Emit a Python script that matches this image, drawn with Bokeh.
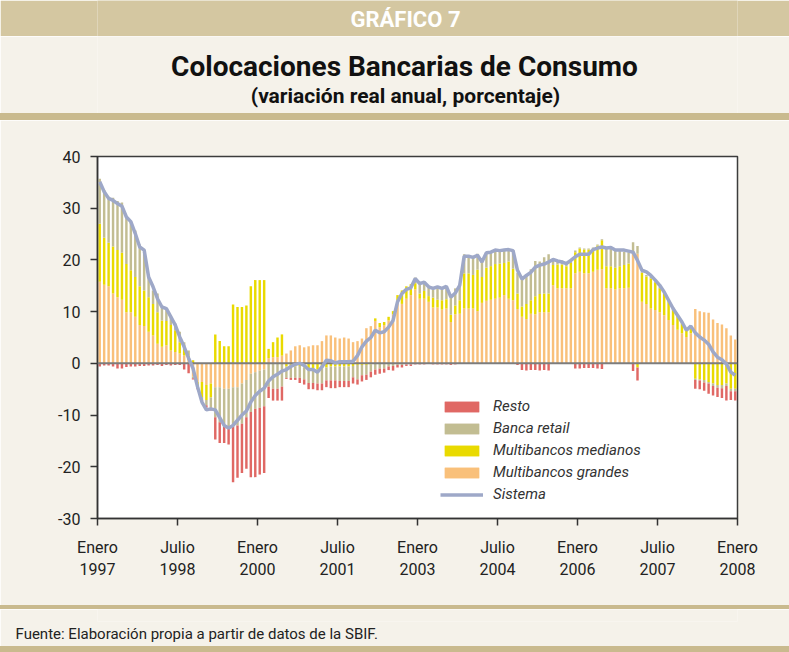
from bokeh.plotting import figure
from bokeh.layouts import column
from bokeh.models import (ColumnDataSource, FixedTicker, Span, Legend, LegendItem,
                          Label, Range1d, Title, Div)
from bokeh.embed import file_html
from bokeh.resources import INLINE

# ---------------- data (monthly categories, 144 bars) ----------------
tick_labels = ["Enero\n1997", "Julio\n1998", "Enero\n2000", "Julio\n2001", "Enero\n2003",
               "Julio\n2004", "Enero\n2006", "Julio\n2007", "Enero\n2008"]
labels_every = 18
y_ticks = [-30, -20, -10, 0, 10, 20, 30, 40]

series_names = ["Multibancos grandes", "Multibancos medianos", "Banca retail", "Resto"]

grandes = [15.8, 15.2, 14.9, 13.5, 12.8, 12.3, 9.9, 9.9, 9.0, 7.4, 7.2, 6.1, 5.4, 3.8, 3.2, 3.5, 2.5, 2.2, 1.9, 1.5, 0.6,
           -2.6, -3.6, -3.6, -4.2, -3.9,
           -4.6, -4.6, -4.9, -4.9, -4.6, -4.6, -3.9, -3.2, -2.0, -1.7, -1.4, -1.2,
           1.0, 1.2, 1.2, 1.5,
           1.9, 2.5, 3.3, 3.5, 3.1, 3.3, 3.5, 3.5, 4.3, 5.4, 5.4, 5.0, 4.8, 5.0, 4.8,
           4.1, 4.3, 4.8, 6.8, 7.2, 8.2, 7.0, 7.4, 8.3, 9.5, 12.2, 11.5, 12.5, 13.2,
           14.3, 12.5, 12.5, 11.9, 10.8, 10.8, 10.4, 10.6, 8.0, 9.5, 9.6, 10.6, 10.6, 10.6, 10.1, 11.7, 12.1, 12.3, 12.5, 12.7, 13.2, 12.5, 12.2,
           10.5, 9.0, 8.6, 9.6, 9.5, 9.9, 9.9, 9.9,
           15.1, 14.5, 14.5, 14.5, 14.5, 17.4, 17.7, 17.4, 17.4, 17.7, 18.1, 18.2,
           14.5, 14.5, 14.3, 14.5, 14.5, 14.6, 21.5, 21.2,
           11.9, 11.5, 10.6, 10.3, 9.9, 9.3, 8.4, 7.4, 6.5, 5.8, 5.1, 5.8,
           10.5, 10.1, 9.9, 9.8, 8.5, 7.8, 7.5, 6.8, 5.4, 4.6]

medianos = [11.2, 9.1, 8.4, 9.1, 9.1, 9.1, 9.3, 8.1, 7.7, 7.5, 6.9, 6.7, 6.1, 6.1, 5.1, 4.7, 4.9, 4.2, 2.2, 1.7, 0.9,
            0.6, -0.9, -2.9, -2.9, -2.7,
            5.6, 4.3, 3.3, 3.3, 11.4, 10.9, 10.9, 11.2, 14.9, 16.1, 16.1, 16.1,
            1.8, 2.9, 3.8, 4.1,
            -0.6, -0.6, -0.6, -0.5, -0.8, -1.0, -1.0, -1.2, -1.0, -0.8, -0.6, -0.6, -0.6, -0.6, -0.6,
            -0.5, -0.3, -0.3, -0.3, -0.2, 0.5, 0.8, 0.6, 0.7, 0.6, 1.0, 2.6, 2.4, 2.1,
            1.2, 1.0, 1.5, 1.1, 1.9, 1.5, 1.8, 1.8, 1.4, 1.7, 2.6, 6.8, 6.8, 6.5, 8.0, 5.0, 6.4, 6.5, 6.7, 6.6, 6.2, 7.2, 6.1,
            3.0, 2.0, 2.9, 2.6, 3.5, 3.5, 3.6, 3.6,
            3.9, 4.6, 4.6, 4.3, 4.9, 4.1, 4.5, 4.6, 4.6, 4.5, 4.7, 5.6,
            4.3, 4.3, 4.2, 4.3, 4.5, 4.7, 0.0, -0.8,
            5.6, 5.3, 5.8, 5.4, 4.6, 4.3, 3.6, 3.3, 2.8, 2.2, 1.5, 1.4,
            -3.0, -3.1, -3.2, -3.6, -3.9, -4.2, -4.2, -3.9, -4.9, -4.9]

retail = [8.7, 9.2, 8.9, 9.4, 9.5, 9.7, 9.1, 9.4, 9.0, 8.1, 7.8, 3.9, 2.6, 3.6, 2.6, 2.1, 1.9, 1.3, 2.0, 0.9, 1.0,
          -0.3, -0.3, -0.5, -1.0, -2.0,
          -5.8, -6.8, -7.4, -7.4, -7.7, -7.4, -7.8, -7.2, -7.4, -7.1, -7.2, -7.1,
          -4.5, -4.9, -4.9, -4.5,
          -2.2, -2.2, -2.2, -2.3, -2.3, -2.8, -2.8, -2.7, -2.9, -2.5, -2.7, -2.7, -2.8, -2.8, -2.8,
          -2.2, -2.8, -2.0, -1.9, -1.4, -1.2, -1.0, -1.0, -0.6, -0.5, -0.3, -0.3, -0.2, -0.2,
          1.1, 1.9, 1.7, 1.6, 1.6, 2.6, 2.1, 2.5, 3.3, 3.3, 2.9, 3.7, 3.5, 3.4, 3.1, 3.6, 3.0, 2.9, 2.8, 2.7, 2.5, 2.3, 3.6,
          4.0, 5.4, 5.5, 6.0, 6.8, 6.3, 7.0, 7.6,
          0.9, 0.8, 0.8, 0.7, 0.8, 0.3, 0.2, 0.2, 0.2, 0.2, 0.2, 0.2,
          3.4, 3.5, 3.4, 3.1, 2.6, 2.2, 1.9, 1.5,
          0.3, 0.3, 0.3, 0.2, 0.2, 0.1, 0.1, 0.1, 0.1, 0.1, 0.1, 0.1,
          -0.2, -0.2, -0.5, -0.3, -0.5, -0.5, -0.6, -0.5, -0.5, -0.5]

resto = [-0.6, -0.4, -0.4, -0.6, -1.0, -1.0, -0.7, -0.6, -0.6, -0.5, -0.5, -0.4, -0.4, -0.3, -0.5, -0.3, -0.4, -0.3, -0.3, -1.2, -1.9,
         -0.2, -0.2, -0.3, -0.5, -0.5,
         -4.3, -4.0, -3.1, -3.4, -10.7, -10.1, -9.5, -10.0, -12.6, -13.2, -12.9, -12.9,
         -2.2, -2.3, -2.3, -2.7,
         -0.2, -0.4, -0.4, -1.0, -1.0, -1.2, -1.2, -1.3, -1.3, -1.3, -1.5, -1.5, -1.2, -1.2, -1.2,
         -1.2, -1.0, -1.2, -1.0, -1.1, -1.0, -1.0, -0.8, -0.7, -0.9, -0.5, -0.5, -0.3, -0.3,
         -0.2, -0.2, -0.2, -0.1, -0.2, -0.2, -0.2, -0.2, -0.3, -0.2, -0.1, 0.0, 0.0, -0.1, -0.1, -0.1, -0.1, 0.0, -0.1, 0.0, 0.0, -0.1, -0.1,
         -0.3, -1.3, -1.4, -1.3, -1.3, -1.4, -1.3, -1.4,
         0.0, 0.0, 0.0, 0.0, 0.0, -1.0, -1.0, -0.9, -0.9, -0.9, -1.0, -1.1,
         0.0, 0.0, 0.0, 0.0, 0.0, 0.0, -1.5, -2.5,
         0.0, 0.0, 0.0, 0.0, 0.0, 0.0, 0.0, 0.0, 0.0, 0.0, 0.0, 0.0,
         -1.7, -1.7, -1.6, -2.0, -1.8, -1.8, -1.9, -2.8, -1.7, -1.8]

sistema = [35.1, 33.2, 31.9, 31.5, 30.9, 30.4, 28.3, 27.4, 25.1, 22.5, 21.9, 16.7, 14.8, 12.5, 10.9, 10.6, 9.0, 7.4, 5.1, 3.2, 1.0,
           -1.0, -4.5, -7.5, -9.0, -8.8,
           -9.0, -10.5, -12.0, -12.5, -12.0, -11.0, -10.0, -9.2, -7.5, -6.2, -5.4, -4.8,
           -3.4, -2.6, -2.1, -1.5,
           -1.2, -0.6, -0.2, 0.0, -0.4, -1.2, -1.2, -1.7, -0.7, 0.6, 0.5, 0.1, 0.3, 0.3, 0.3,
           0.4, 1.5, 3.2, 4.3, 5.0, 6.4, 5.9, 6.1, 7.0, 8.3, 11.9, 13.5, 14.3, 14.6,
           16.4, 15.4, 15.7, 14.8, 14.5, 14.8, 14.5, 14.9, 12.8, 13.6, 15.1, 20.7, 20.7, 20.5, 20.9, 19.6, 21.4, 21.5, 21.9, 21.8, 21.9, 22.0, 21.8,
           18.0, 16.3, 17.0, 17.6, 18.6, 19.0, 19.2, 19.6,
           20.1, 19.8, 19.6, 19.3, 19.9, 20.6, 21.1, 21.1, 21.1, 22.0, 22.3, 22.5,
           22.3, 22.4, 21.9, 21.9, 21.9, 21.7, 21.5, 19.9,
           18.0, 17.7, 17.0, 16.1, 15.1, 13.8, 12.2, 10.6, 9.3, 8.0, 6.4, 7.2,
           5.9, 5.1, 4.5, 3.7, 2.2, 1.2, 0.7, -0.1, -1.7, -2.3]

# ---------------- styles ----------------
W = 789
LEFT, RIGHT = 97, 52          # frame borders shared by every figure in the column
BG = "#F5F2EA"
TAN = "#D4C7A1"
TAN_LINE = "#C9BA8E"
COLORS = {"Multibancos grandes": "#F9C07A", "Multibancos medianos": "#E9DA00",
          "Banca retail": "#C2BD92", "Resto": "#E06864"}
LINE_COLOR = "#9EA8C8"
FONT = "Roboto"


def strip(height, fill):
    """Decoration-only figure; x in page pixels inside the shared frame columns."""
    f = figure(width=W, height=height, x_range=Range1d(LEFT, W - RIGHT), y_range=Range1d(height, 0),
               x_axis_type=None, y_axis_type=None,
               min_border_left=LEFT, min_border_right=RIGHT, min_border_top=0, min_border_bottom=0,
               background_fill_color=fill, border_fill_color=fill,
               output_backend="svg", toolbar_location=None)
    f.grid.visible = False
    f.outline_line_color = None
    return f


def rule(height):
    return Div(text="", width=W, height=height, margin=0,
               styles={"background-color": TAN_LINE})


def label(f, x, y, s, size, color="#111111", style="bold", align="center"):
    f.add_layout(Label(x=x, y=y, text=s, text_font=FONT, text_font_size=size,
                       text_font_style=style, text_color=color, text_align=align,
                       text_baseline="middle"))


# header strip
head = strip(36, TAN)
label(head, 405, 19, "GRÁFICO 7", "22px", color="white")

# title strip
titles = strip(77, BG)
label(titles, 404, 30, "Colocaciones Bancarias de Consumo", "28px")
label(titles, 405, 59, "(variación real anual, porcentaje)", "21px")

# ---------------- main chart ----------------
n = len(sistema)
xs = [i + 0.5 for i in range(n)]
data = {"x": xs, "sistema": sistema}
for key, vals in zip(["g", "m", "r", "z"], [grandes, medianos, retail, resto]):
    data[key + "_pos"] = [max(v, 0.0) for v in vals]
    data[key + "_neg"] = [min(v, 0.0) for v in vals]
src = ColumnDataSource(data)

p = figure(frame_width=640, frame_height=362,
           x_range=Range1d(0, n), y_range=Range1d(-30, 40),
           min_border_left=LEFT, min_border_right=RIGHT, min_border_top=36, min_border_bottom=87,
           background_fill_color="white", border_fill_color=BG,
           output_backend="svg", toolbar_location=None)
p.grid.visible = False
p.outline_line_color = "#3c3c3c"
p.outline_line_width = 1.5

cols = [COLORS[s] for s in series_names]
pos = p.vbar_stack(["g_pos", "m_pos", "r_pos", "z_pos"], x="x", width=0.55,
                   color=cols, line_width=0, source=src)
neg = p.vbar_stack(["g_neg", "m_neg", "r_neg", "z_neg"], x="x", width=0.55,
                   color=cols, line_width=0, source=src)

p.add_layout(Span(location=0, dimension="width", line_color="#7d7d7d", line_width=2))

ln = p.line("x", "sistema", source=src, line_color=LINE_COLOR, line_width=3.5, level="overlay")

ticks = [i * labels_every for i in range(len(tick_labels))]
p.xaxis.ticker = FixedTicker(ticks=ticks)
p.xaxis.major_label_overrides = {t: lab for t, lab in zip(ticks, tick_labels)}
p.yaxis.ticker = FixedTicker(ticks=y_ticks)
p.yaxis.major_label_overrides = {t: str(t) for t in y_ticks}
for ax in (p.xaxis[0], p.yaxis[0]):
    ax.axis_line_color = "#333333"
    ax.axis_line_width = 1.5
    ax.major_tick_line_color = "#333333"
    ax.major_tick_line_width = 1.5
    ax.major_tick_out = 7
    ax.major_tick_in = 0
    ax.minor_tick_line_color = None
    ax.major_label_text_font = FONT
    ax.major_label_text_font_size = "16px"
    ax.major_label_text_color = "#222222"
p.xaxis.major_label_standoff = 12
p.yaxis.major_label_standoff = 10

items = [LegendItem(label="Resto", renderers=[pos[3], neg[3]]),
         LegendItem(label="Banca retail", renderers=[pos[2], neg[2]]),
         LegendItem(label="Multibancos medianos", renderers=[pos[1], neg[1]]),
         LegendItem(label="Multibancos grandes", renderers=[pos[0], neg[0]]),
         LegendItem(label="Sistema", renderers=[ln])]
legend = Legend(items=items, location=(343, 15), glyph_width=43, glyph_height=13,
                spacing=4, padding=0, margin=0, label_standoff=10,
                border_line_color=None, background_fill_alpha=0,
                label_text_font=FONT, label_text_font_style="italic",
                label_text_font_size="15px", label_text_color="#333333")
p.add_layout(legend)

# footer strip: the source note sits in a title panel below a thin empty frame
foot = figure(width=W, height=37, x_range=Range1d(0, 1), y_range=Range1d(0, 1),
              x_axis_type=None, y_axis_type=None,
              min_border_left=LEFT, min_border_right=RIGHT, min_border_top=0, min_border_bottom=25,
              background_fill_color=BG, border_fill_color=BG,
              output_backend="svg", toolbar_location=None)
foot.grid.visible = False
foot.outline_line_color = None
foot.add_layout(Title(text="Fuente: Elaboración propia a partir de datos de la SBIF.",
                      align="left", offset=15 - LEFT, standoff=2,
                      text_font=FONT, text_font_size="15px", text_font_style="normal",
                      text_color="#222222"), "below")

layout = column(head, titles, rule(7), p, rule(4), foot, rule(6), spacing=0)
open("out.html", "w").write(file_html(layout, INLINE))
